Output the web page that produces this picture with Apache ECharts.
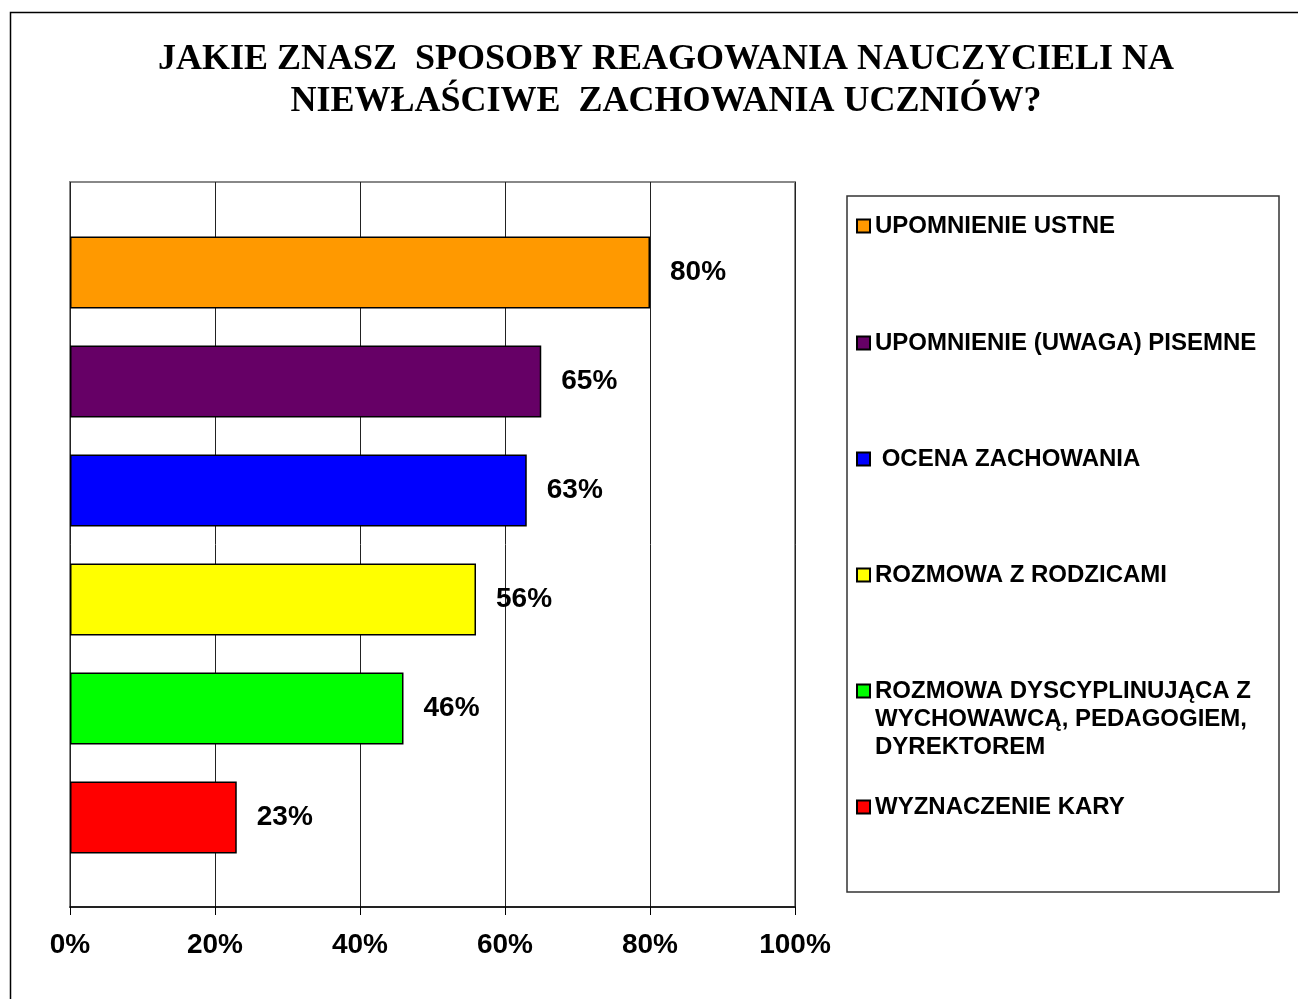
<!DOCTYPE html>
<html style="height: 100%">
<head>
    <meta charset="utf-8">
    <title>Sposoby reagowania nauczycieli</title>
</head>
<body style="height: 100%; margin: 0; background: #fff">
<div id="container" style="width: 1298px; height: 999px"></div>
<script type="text/javascript" src="https://cdn.jsdelivr.net/npm/echarts@6/dist/echarts.min.js"></script>
<script type="text/javascript">
// data
var categories = [
    'UPOMNIENIE USTNE',
    'UPOMNIENIE (UWAGA) PISEMNE',
    ' OCENA ZACHOWANIA',
    'ROZMOWA Z RODZICAMI',
    'ROZMOWA DYSCYPLINUJĄCA Z\nWYCHOWAWCĄ, PEDAGOGIEM,\nDYREKTOREM',
    'WYZNACZENIE KARY'
];
var values = [0.80, 0.65, 0.63, 0.56, 0.46, 0.23];
var colors = ['#FF9900', '#660066', '#0000FF', '#FFFF00', '#00FF00', '#FF0000'];

var dom = document.getElementById('container');
var myChart = echarts.init(dom);

// centre of the first text line of each legend entry
var legendY = [225, 342, 458, 574, 690, 806];

var series = [];
var legends = [];
for (var i = 0; i < categories.length; i++) {
    var row = [];
    for (var j = 0; j < categories.length; j++) {
        row.push(j === i ? values[i] : '-');
    }
    series.push({
        name: categories[i],
        type: 'bar',
        stack: 'all',
        xAxisIndex: 1,
        yAxisIndex: 1,
        barWidth: 72,
        itemStyle: {color: colors[i], borderColor: '#000', borderWidth: 1.5},
        label: {
            show: true,
            position: 'right',
            distance: 20,
            formatter: function (p) { return Math.round(p.value * 100) + '%'; },
            color: '#000',
            fontFamily: 'Liberation Sans',
            fontWeight: 'bold',
            fontSize: 28
        },
        data: row
    });
    // multi-line entry: two blank lines in front so the icon sits on the first line
    var multi = categories[i].indexOf('\n') >= 0;
    legends.push({
        data: [categories[i]],
        left: 856,
        top: legendY[i] - (multi ? 69 : 13),
        padding: 0,
        itemWidth: 13,
        itemHeight: 13,
        icon: 'rect',
        selectedMode: false,
        formatter: multi ? function (name) { return '\n\n' + name; } : '{name}',
        textStyle: {
            color: '#000',
            fontFamily: 'Liberation Sans',
            fontWeight: 'bold',
            fontSize: 24,
            lineHeight: 28
        }
    });
}

var option = {
    animation: false,
    backgroundColor: '#fff',
    title: {
        text: 'JAKIE ZNASZ  SPOSOBY REAGOWANIA NAUCZYCIELI NA\nNIEWŁAŚCIWE  ZACHOWANIA UCZNIÓW?',
        left: 661,
        top: 34,
        textAlign: 'center',
        textStyle: {
            fontFamily: 'Liberation Serif',
            fontWeight: 'bold',
            fontSize: 36,
            lineHeight: 42,
            color: '#000'
        }
    },
    legend: legends,
    graphic: [
        {
            type: 'rect',
            shape: {x: 10.5, y: 12.5, width: 1300, height: 1000},
            style: {fill: 'none', stroke: '#000', lineWidth: 1.5},
            silent: true
        },
        {
            type: 'rect',
            shape: {x: 847, y: 196, width: 432, height: 696},
            style: {fill: 'none', stroke: '#333', lineWidth: 1.5},
            silent: true
        }
    ],
    grid: [
        {left: 70, top: 182, width: 725, height: 725, show: true, borderColor: '#888', borderWidth: 2},
        {left: 70, top: 218, width: 725, height: 654}
    ],
    xAxis: [
        {
            type: 'value',
            gridIndex: 0,
            min: 0,
            max: 1,
            interval: 0.2,
            axisLine: {show: true, lineStyle: {color: '#000', width: 1.5}},
            axisTick: {show: true, length: 8, lineStyle: {color: '#000'}},
            splitLine: {show: true, lineStyle: {color: '#222', width: 1}},
            axisLabel: {
                margin: 24,
                color: '#000',
                fontFamily: 'Liberation Sans',
                fontWeight: 'bold',
                fontSize: 28,
                formatter: function (v) { return Math.round(v * 100) + '%'; }
            }
        },
        {type: 'value', gridIndex: 1, min: 0, max: 1, show: false}
    ],
    yAxis: [
        {type: 'category', gridIndex: 0, data: categories, show: false},
        {type: 'category', gridIndex: 1, data: categories, inverse: true, show: false}
    ],
    series: series
};

if (option && typeof option === 'object') {
    myChart.setOption(option);
}
</script>
</body>
</html>
